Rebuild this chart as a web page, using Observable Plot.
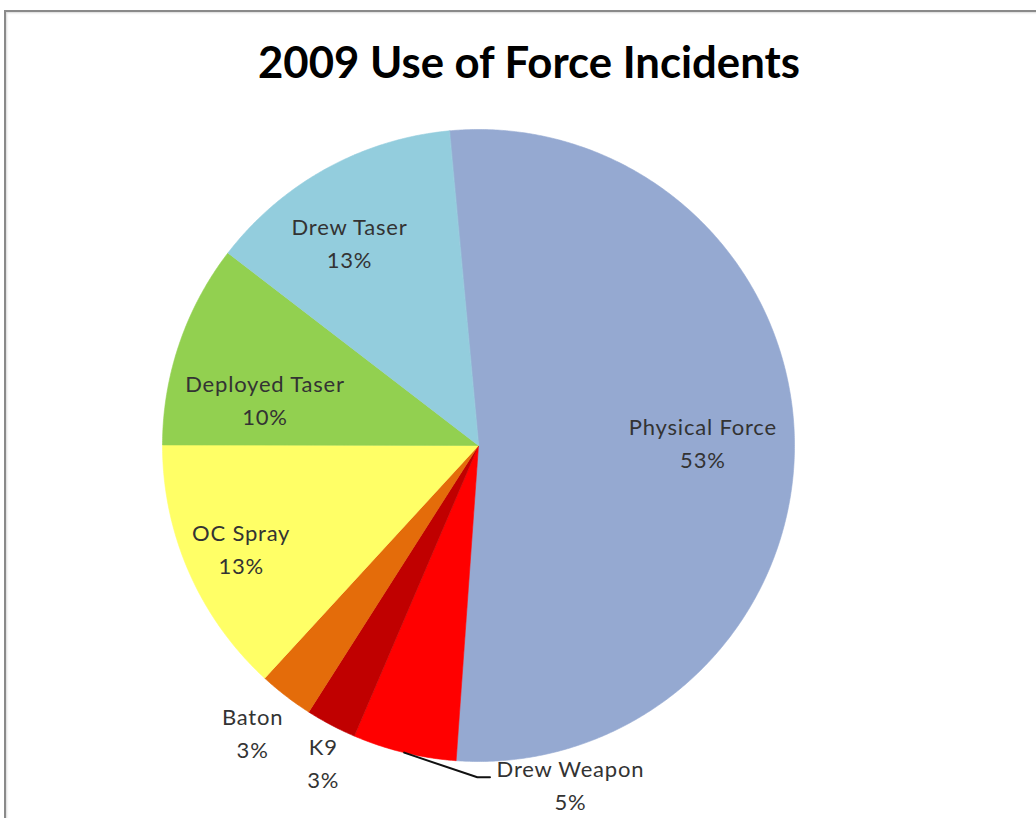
<!DOCTYPE html>
<html>
<head>
<meta charset="utf-8">
<script src="https://cdn.jsdelivr.net/npm/d3@7"></script>
<script src="https://cdn.jsdelivr.net/npm/@observablehq/plot@0.6"></script>
<style>
  html, body { margin: 0; padding: 0; background: #fff; }
  #wrap { position: relative; width: 1036px; height: 818px; overflow: hidden; background: #fff; }
  #frame { position: absolute; left: 4px; top: 10px; width: 1100px; height: 900px;
           border-top: 2px solid #8a8a8a; border-left: 2px solid #8a8a8a;
           box-shadow: inset 1px 1px 2px rgba(0,0,0,0.15); }
  #title { position: absolute; top: 39px; left: 0; width: 1058px; text-align: center;
           font-family: Lato, "Open Sans", sans-serif; font-weight: 700; font-size: 44px; color: #000;
           line-height: 1; white-space: nowrap; }
  #title span { display: inline-block; transform-origin: center; }
  #chart { position: absolute; left: 0; top: 0; }
  #chart svg text { letter-spacing: 0.8px; }
</style>
</head>
<body>
<div id="wrap">
  <div id="frame"></div>
  <div id="title"><span>2009 Use of Force Incidents</span></div>
  <div id="chart"></div>
</div>
<script>
// ---- data ----
const categories = ["Physical Force", "Drew Weapon", "K9", "Baton", "OC Spray", "Deployed Taser", "Drew Taser"];
const values     = [52.6, 5.3, 2.6, 2.8, 13.2, 10.4, 13.1];
const colors     = ["#95A9D1", "#FF0000", "#C00000", "#E46C0A", "#FFFF66", "#92D050", "#93CDDD"];

// ---- layout (label placement: angle nudge in degrees, radius factor) ----
const startAngleDeg = -5.3;
const labelPlacement = {
  "Physical Force": [0.3, 0.71],
  "Drew Weapon":    [-28.7, 1.117],
  "K9":             [-1.8, 1.12],
  "Baton":          [0.5, 1.16],
  "OC Spray":       [0, 0.82],
  "Deployed Taser": [-7.1, 0.69],
  "Drew Taser":     [-3.8, 0.756]
};
const leaderNames = ["Drew Weapon"];

const rad = Math.PI / 180;
const total = d3.sum(values);
const polar = (angDeg, r) => ({ x: r * Math.sin(angDeg * rad), y: -r * Math.cos(angDeg * rad) });

// slices as polygons in data space
const slicePts = [];
const labels = [];
const leaders = [];
let a0 = startAngleDeg;
categories.forEach((name, i) => {
  const span = values[i] / total * 360;
  const a1 = a0 + span;
  slicePts.push({ name, ...polar(0, 0) });
  const n = Math.max(2, Math.ceil(span / 0.4));
  for (let k = 0; k <= n; k++) {
    slicePts.push({ name, ...polar(a0 + span * k / n, 1) });
  }
  const mid = (a0 + a1) / 2;
  const [nudge, r] = labelPlacement[name];
  const p = polar(mid + nudge, r);
  labels.push({ name, text: `${name}\n${Math.round(values[i] / total * 100)}%`, x: p.x, y: p.y });
  if (leaderNames.includes(name)) {
    const s = polar(mid, 1.0);
    const elbow = polar(180.2, 1.05);
    leaders.push({ name, x: s.x, y: s.y }, { name, x: elbow.x, y: elbow.y }, { name, x: elbow.x + 0.04, y: elbow.y });
  }
  a0 = a1;
});

const chart = Plot.plot({
  width: 1036,
  height: 818,
  margin: 0,
  x: { domain: [-1, 1], range: [162, 794], axis: null },
  y: { domain: [-1, 1], range: [129, 761], axis: null },
  color: { domain: categories, range: colors },
  style: { background: "transparent", overflow: "visible" },
  marks: [
    Plot.line(slicePts, { x: "x", y: "y", z: "name", fill: "name", stroke: "name", strokeWidth: 0.6, curve: "linear-closed" }),
    Plot.line(leaders, { x: "x", y: "y", z: "name", stroke: "#111", strokeWidth: 2 }),
    Plot.text(labels, { x: "x", y: "y", dy: -3, text: "text", fontSize: 22, lineHeight: 1.5,
      fontFamily: "Lato, 'Open Sans', sans-serif", fill: "#333", textAnchor: "middle" })
  ]
});
document.getElementById("chart").appendChild(chart);

// fit title width to reference (~542px)
const t = document.querySelector("#title span");
const w = t.getBoundingClientRect().width;
t.style.transform = `scaleX(${542 / w})`;
</script>
</body>
</html>
